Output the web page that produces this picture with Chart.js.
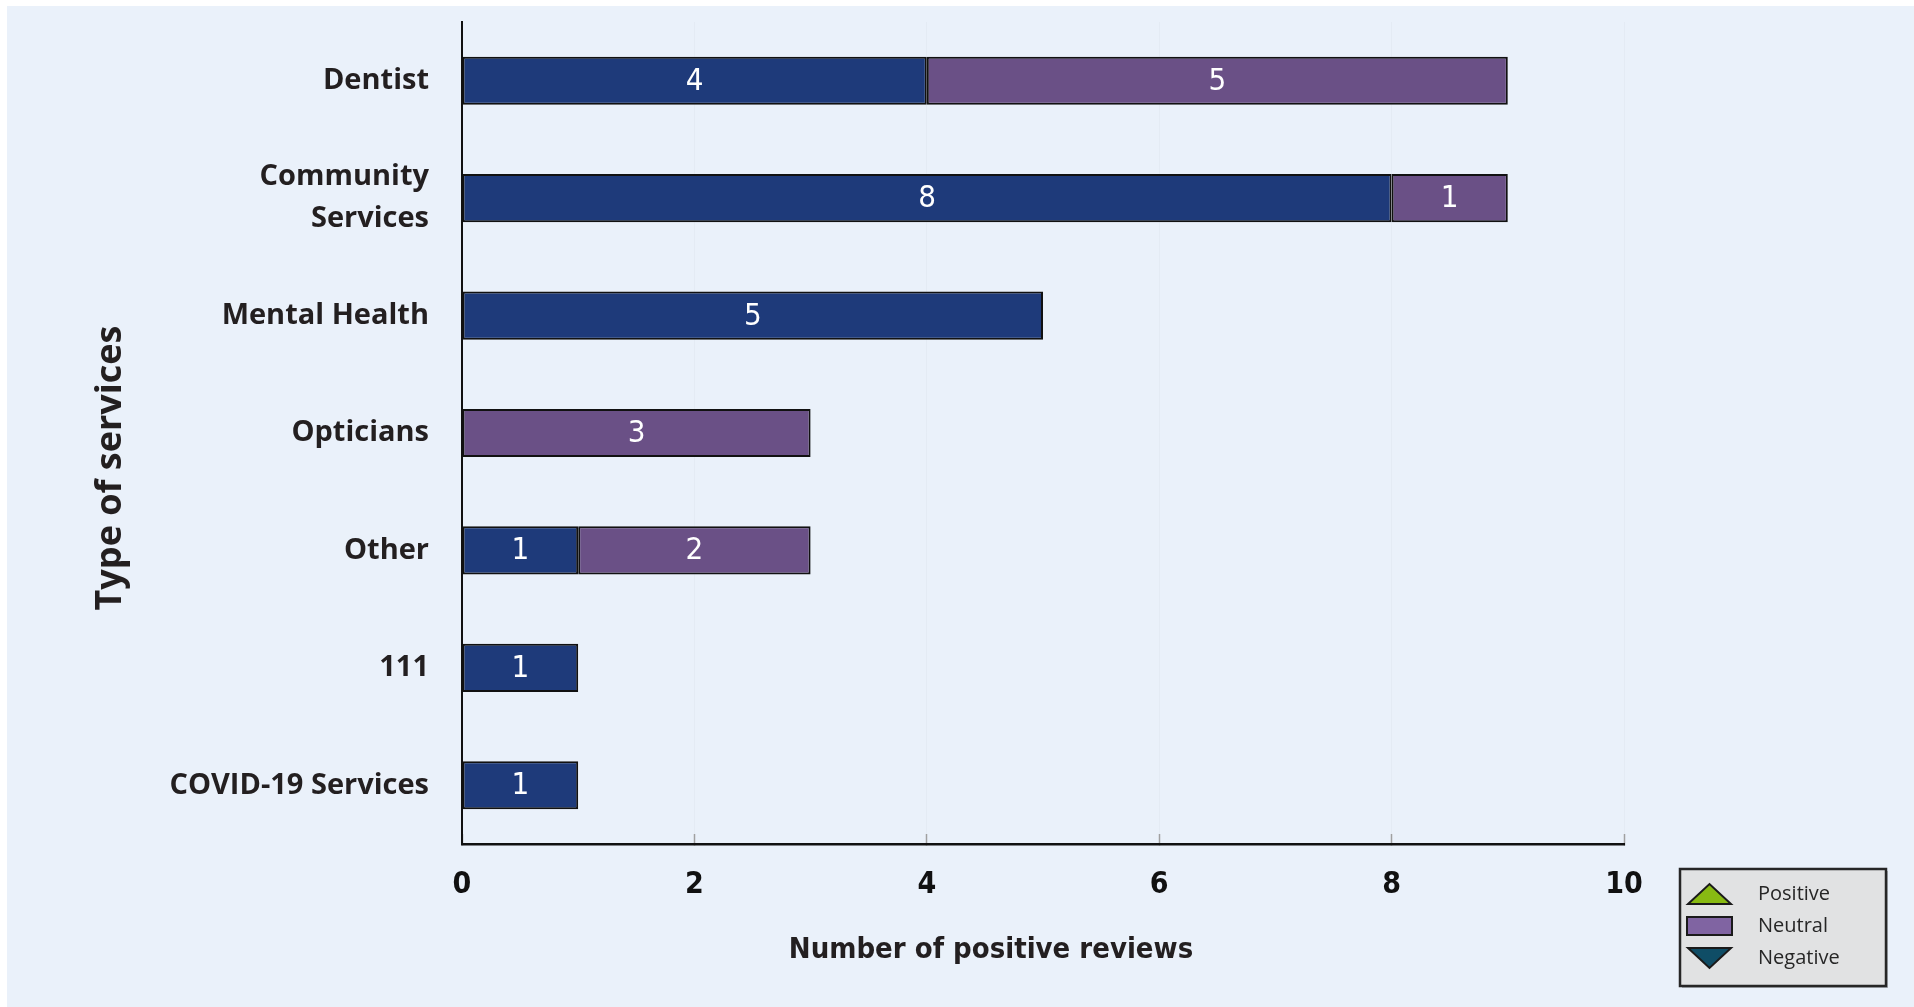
<!DOCTYPE html>
<html><head><meta charset="utf-8">
<script src="https://cdn.jsdelivr.net/npm/chart.js@4.4.1/dist/chart.umd.min.js"></script>
<style>
html,body{margin:0;padding:0;background:#fff;width:1914px;height:1007px;overflow:hidden}
#panel{position:absolute;left:7px;top:6px;right:0;bottom:0;background:#eaf1fa}
#wrap{position:absolute;left:0;top:0;width:1914px;height:1007px}
</style></head><body>
<div id="panel"></div>
<div id="wrap"><canvas id="c" width="1914" height="1007"></canvas></div>
<script>
// ---- data ----
const categories = ['Dentist', ['Community', 'Services'], 'Mental Health', 'Opticians', 'Other', '111', 'COVID-19 Services'];
const positiveValues = [4, 8, 5, null, 1, 1, 1];
const neutralValues = [5, 1, null, 3, 2, null, null];
const xTicks = [0, 2, 4, 6, 8, 10];
const legendLabels = ['Positive', 'Neutral', 'Negative'];
const xTitle = 'Number of positive reviews';
const yTitle = 'Type of services';

// ---- styles ----
const BLUE = '#1e3a7a';
const PURPLE = '#6a5086';
const TEXT = '#231f20';
const COND = '"DejaVu Sans Condensed", "DejaVu Sans", sans-serif';
const MAIN = '"Open Sans", "Noto Sans", sans-serif';

function makeSymbol(kind, fill) {
  const c = document.createElement('canvas');
  c.width = 64; c.height = 24;
  const g = c.getContext('2d');
  g.fillStyle = fill; g.strokeStyle = '#1a1a1a'; g.lineWidth = 2; g.lineJoin = 'miter';
  g.beginPath();
  if (kind === 'up') { g.moveTo(4, 22); g.lineTo(47, 22); g.lineTo(25.5, 2); g.closePath(); }
  else if (kind === 'down') { g.moveTo(4, 2); g.lineTo(47, 2); g.lineTo(25.5, 22); g.closePath(); }
  else { g.rect(3, 3, 45, 18); }
  g.fill(); g.stroke();
  return c;
}
const legendSymbols = [makeSymbol('up', '#88ba12'), makeSymbol('rect', '#8064a2'), makeSymbol('down', '#0f4d66')];

Chart.defaults.font.family = MAIN;
Chart.defaults.color = TEXT;

const LEGEND_W = 178;

const layoutPlugin = {
  id: 'layoutTweaks',
  beforeLayout(chart) {
    const lg = chart.legend;
    if (lg && !lg._fixedFit) {
      const f = lg.fit;
      lg.fit = function () { f.call(this); this.width = LEGEND_W; };
      lg._fixedFit = true;
    }
  },
  afterLayout(chart) {
    const lg = chart.legend;
    if (!lg) return;
    lg.left = chart.chartArea.right + 48;
    lg.right = lg.left + LEGEND_W;
    lg.bottom = 980;
    lg.top = 860;
  },
  beforeDraw(chart) {
    const lg = chart.legend; const ctx = chart.ctx;
    if (!lg) return;
    const x0 = lg.left + 8, y0 = lg.bottom - 111;
    ctx.save();
    ctx.fillStyle = 'rgba(0,0,0,0.25)';
    ctx.fillRect(x0 + 2, y0 + 2, 206, 117);
    ctx.fillStyle = '#e1e2e3';
    ctx.fillRect(x0, y0, 206, 117);
    ctx.strokeStyle = '#262626'; ctx.lineWidth = 2.5;
    ctx.strokeRect(x0, y0, 206, 117);
    ctx.restore();
  },
  afterDatasetsDraw(chart) {
    const ctx = chart.ctx;
    ctx.save();
    ctx.fillStyle = '#ffffff';
    ctx.font = '31px ' + COND;
    ctx.textAlign = 'center'; ctx.textBaseline = 'middle';
    chart.data.datasets.forEach((ds, di) => {
      const meta = chart.getDatasetMeta(di);
      meta.data.forEach((el, i) => {
        const v = ds.data[i];
        if (v == null || v === 0) return;
        const p = el.getProps(['x', 'y', 'base'], true);
        ctx.fillText(String(v), (p.x + p.base) / 2, p.y + 1);
      });
    });
    ctx.restore();
  },
  afterDraw(chart) {
    const ctx = chart.ctx; const ca = chart.chartArea;
    ctx.save();
    ctx.fillStyle = TEXT;
    ctx.textAlign = 'center'; ctx.textBaseline = 'middle';
    ctx.font = 'bold 29px ' + COND;
    ctx.fillText(xTitle, (ca.left + ca.right) / 2 - 52, ca.bottom + 106);
    ctx.translate(ca.left - 351, (ca.top + ca.bottom) / 2 + 35);
    ctx.rotate(-Math.PI / 2);
    ctx.font = 'bold 36px ' + MAIN;
    ctx.fillText(yTitle, 0, 0);
    ctx.restore();
  }
};

new Chart(document.getElementById('c'), {
  type: 'bar',
  data: {
    labels: categories,
    datasets: [
      { label: 'Positive', data: positiveValues, backgroundColor: BLUE },
      { label: 'Neutral', data: neutralValues, backgroundColor: PURPLE }
    ]
  },
  options: {
    indexAxis: 'y',
    responsive: false,
    animation: false,
    devicePixelRatio: 1,
    layout: { padding: { top: 22, right: 112, bottom: 0, left: 0 } },
    datasets: {
      bar: { borderColor: '#111', borderWidth: 2, borderSkipped: false, categoryPercentage: 1, barPercentage: 0.41 }
    },
    scales: {
      x: {
        stacked: true, min: 0, max: 10,
        afterBuildTicks: s => { s.ticks = xTicks.map(v => ({ value: v })); },
        afterFit: s => { s.height = 163; s.paddingLeft = 0; s.paddingRight = 0; },
        ticks: { font: { family: COND, size: 30, weight: 'bold' }, color: '#111', padding: 33 },
        grid: { color: 'rgba(0,0,0,0.025)', drawTicks: true, tickLength: -10, tickColor: '#a0a0a0', tickWidth: 1.5 },
        border: { display: true, color: '#111', width: 2.5 },
        title: { display: false }
      },
      y: {
        stacked: true,
        afterFit: s => { s.width = 462; s.paddingTop = 0; s.paddingBottom = 0; },
        ticks: { font: { family: MAIN, size: 29, weight: 'bold', lineHeight: 1.45 }, color: TEXT, padding: 33 },
        grid: { display: false, drawTicks: false },
        border: { display: true, color: '#111', width: 2 },
        title: { display: false }
      }
    },
    plugins: {
      tooltip: { enabled: false },
      legend: {
        position: 'right', align: 'end',
        labels: {
          usePointStyle: true, pointStyleWidth: 64, padding: 12, color: '#262626',
          font: { family: MAIN, size: 20 },
          generateLabels: () => legendLabels.map((t, i) => ({
            text: t, pointStyle: legendSymbols[i], fillStyle: 'rgba(0,0,0,0)',
            strokeStyle: 'rgba(0,0,0,0)', lineWidth: 0, hidden: false, fontColor: '#262626'
          }))
        }
      }
    }
  },
  plugins: [layoutPlugin]
});
</script>
</body></html>
